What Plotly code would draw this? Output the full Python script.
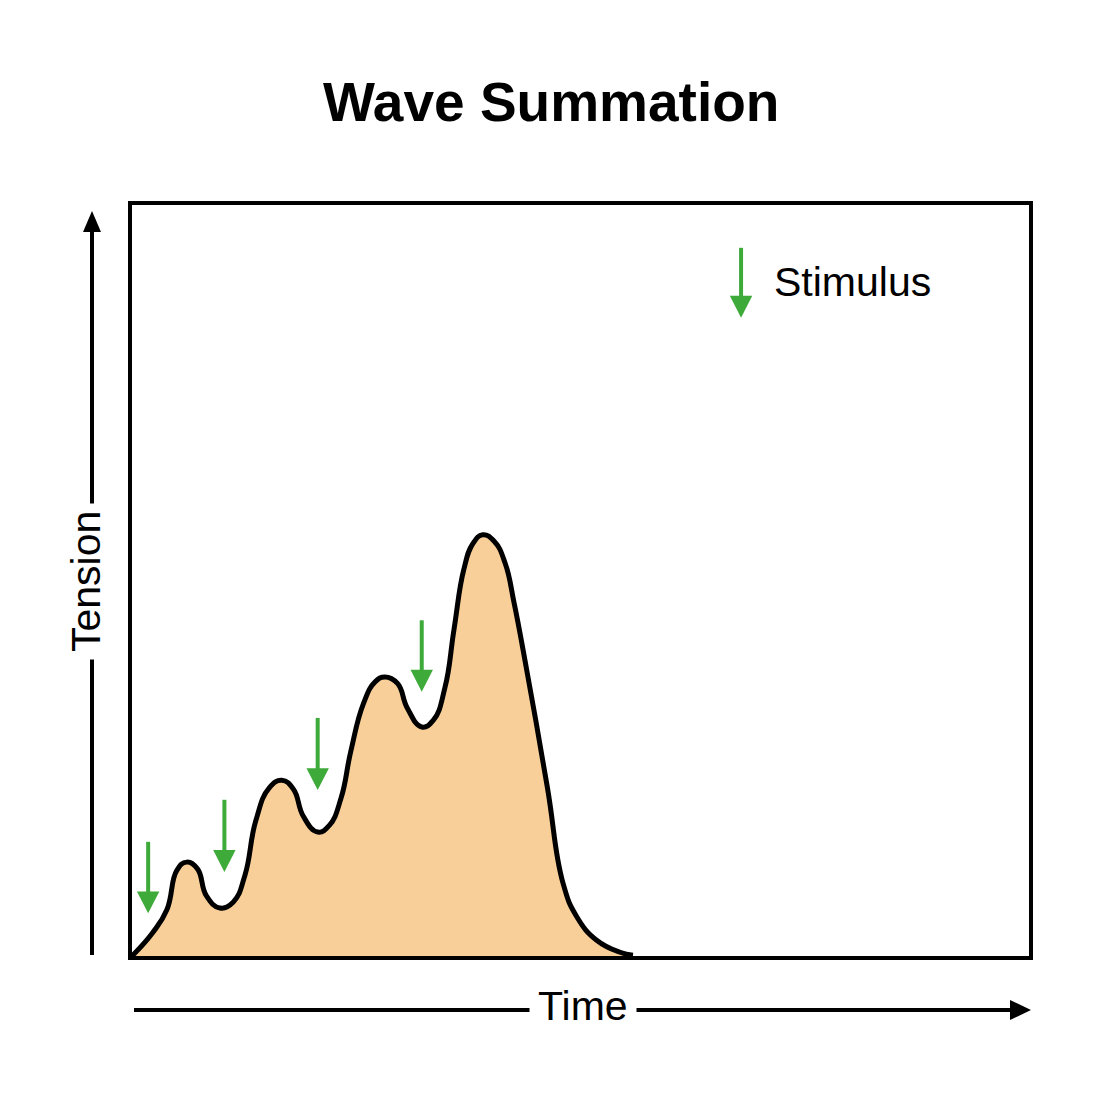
import plotly.graph_objects as go

# ---- data (time units 0-100, tension units 0-100) ----
time = [0.0, 2.3, 3.9, 5.0, 6.1, 7.3, 8.3, 9.8, 11.3, 12.6, 13.8, 15.3, 16.7, 18.0, 19.1,
        20.7, 22.0, 23.3, 24.4, 25.8, 27.1, 28.2, 29.6, 30.7, 32.3, 33.6, 34.9, 35.9, 37.0,
        38.0, 39.1, 40.4, 41.6, 42.6, 44.0, 46.3, 48.05, 49.6, 51.8, 54.4, 55.85]
tension = [0.0, 3.1, 6.2, 11.4, 12.5, 11.6, 8.0, 6.4, 7.2, 10.8, 18.0, 22.4, 23.4, 22.2, 18.6,
           16.5, 17.4, 21.0, 27.3, 33.6, 36.5, 37.15, 36.3, 33.0, 30.5, 31.4, 35.8, 43.5, 51.5,
           54.9, 56.1, 55.2, 52.3, 47.0, 38.1, 22.5, 9.7, 5.2, 2.1, 0.5, 0.1]

stim_time = [1.8, 10.3, 20.7, 32.3]
stim_top = [15.2, 20.8, 31.7, 44.7]
stim_tip = [5.7, 11.2, 22.1, 35.2]

legend_time = 67.9
legend_top = 94.3
legend_tip = 85.0

title_text = "Wave Summation"
x_label = "Time"
y_label = "Tension"
legend_label = "Stimulus"

GREEN = "#3EAA3A"
FILL = "#F9CF99"

fig = go.Figure()
fig.add_trace(go.Scatter(
    x=time, y=tension, mode="lines",
    line=dict(color="black", width=5, shape="spline", smoothing=1.3),
    fill="tozeroy", fillcolor=FILL, hoverinfo="skip", showlegend=False,
))

shapes = []
HW = 1.25   # half head width (x units)
HH = 2.9    # head height (y units)


def add_arrow(x, top, tip):
    shapes.append(dict(type="line", xref="x", yref="y", x0=x, x1=x, y0=top, y1=tip + HH * 0.6,
                       line=dict(color=GREEN, width=4), layer="above"))
    shapes.append(dict(type="path", xref="x", yref="y",
                       path=f"M {x-HW},{tip+HH} L {x+HW},{tip+HH} L {x},{tip} Z",
                       fillcolor=GREEN, line=dict(color=GREEN, width=0), layer="above"))


for sx, st, sp in zip(stim_time, stim_top, stim_tip):
    add_arrow(sx, st, sp)
add_arrow(legend_time, legend_top, legend_tip)

# outer axis arrows in paper coords (plot area: x 132..1029 px, y 205..956 px)
L, R, T, B = 132, 1029, 205, 956


def px(xp):
    return (xp - L) / (R - L)


def py(yp):
    return (B - yp) / (B - T)


# Tension arrow (vertical)
shapes.append(dict(type="line", xref="paper", yref="paper", x0=px(92), x1=px(92),
                   y0=py(955), y1=py(228), line=dict(color="black", width=4)))
shapes.append(dict(type="path", xref="paper", yref="paper",
                   path=f"M {px(83)},{py(232)} L {px(101)},{py(232)} L {px(92)},{py(211)} Z",
                   fillcolor="black", line=dict(width=0)))
# Time arrow (horizontal)
shapes.append(dict(type="line", xref="paper", yref="paper", x0=px(134), x1=px(1014),
                   y0=py(1010), y1=py(1010), line=dict(color="black", width=4)))
shapes.append(dict(type="path", xref="paper", yref="paper",
                   path=f"M {px(1010)},{py(1000)} L {px(1010)},{py(1020)} L {px(1031)},{py(1010)} Z",
                   fillcolor="black", line=dict(width=0)))

annotations = [
    dict(text=f"<b>{title_text}</b>", xref="paper", yref="paper", x=px(551), y=py(102),
         showarrow=False, font=dict(size=55, color="black", family="Liberation Sans, Arial"),
         xanchor="center", yanchor="middle"),
    dict(text=x_label, xref="paper", yref="paper", x=px(583), y=py(1006),
         showarrow=False, font=dict(size=41, color="black", family="Liberation Sans, Arial"),
         xanchor="center", yanchor="middle", bgcolor="white", borderpad=8),
    dict(text=y_label, xref="paper", yref="paper", x=px(86), y=py(582), textangle=-90,
         showarrow=False, font=dict(size=41, color="black", family="Liberation Sans, Arial"),
         xanchor="center", yanchor="middle", bgcolor="white", borderpad=7),
    dict(text=legend_label, xref="x", yref="y", x=71.4, y=89.8,
         showarrow=False, font=dict(size=41, color="black", family="Liberation Sans, Arial"),
         xanchor="left", yanchor="middle"),
]

fig.update_layout(
    width=1100, height=1100,
    margin=dict(l=L, r=1100 - R, t=T, b=1100 - B),
    paper_bgcolor="white", plot_bgcolor="white",
    shapes=shapes, annotations=annotations, showlegend=False,
    xaxis=dict(range=[0, 100], showgrid=False, zeroline=False, showticklabels=False, ticks="",
               showline=True, mirror=True, linecolor="black", linewidth=4, fixedrange=True),
    yaxis=dict(range=[0, 100], showgrid=False, zeroline=False, showticklabels=False, ticks="",
               showline=True, mirror=True, linecolor="black", linewidth=4, fixedrange=True),
)

fig.write_html("out.html", config={"displayModeBar": False})
